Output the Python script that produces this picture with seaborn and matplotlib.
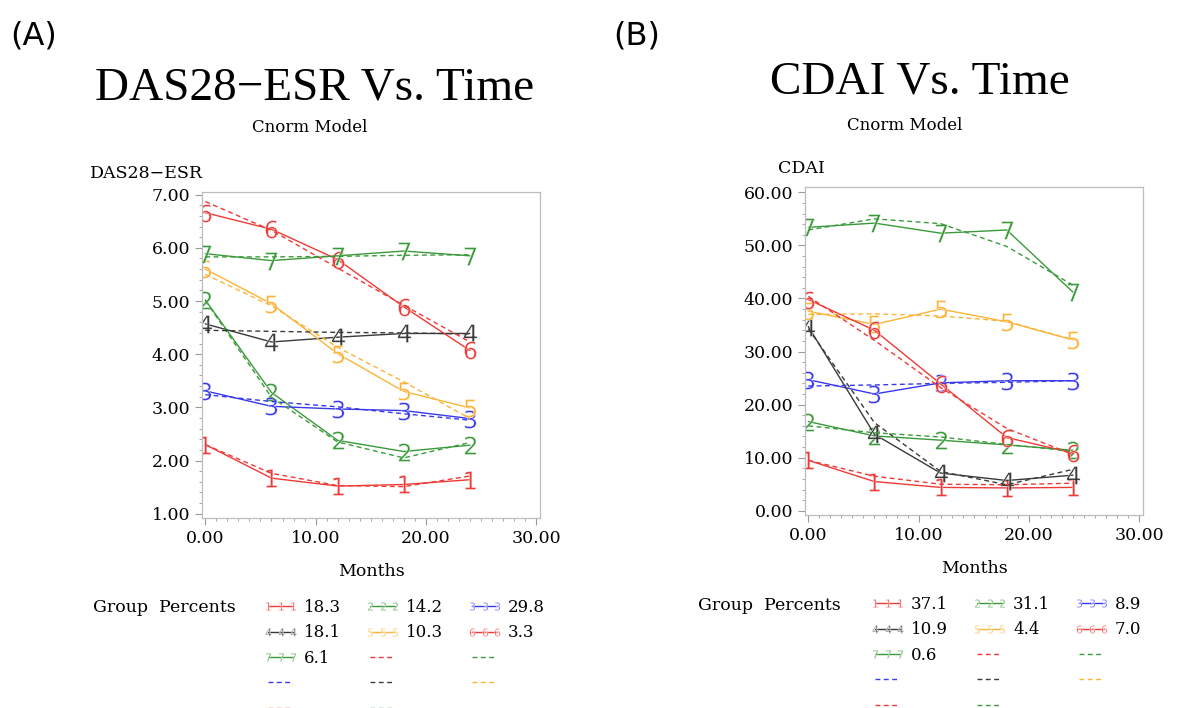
#!/usr/bin/env python3
# -*- coding: utf-8 -*-
"""Trayectorias por grupo (DAS28-ESR y CDAI) frente al tiempo, modelo Cnorm."""

import matplotlib
matplotlib.use('Agg')
import matplotlib.pyplot as plt
from matplotlib.ticker import MultipleLocator, FormatStrFormatter
import seaborn as sns

# Datos
months = [0, 6, 12, 18, 24]
group_ids = ['1', '2', '3', '4', '5', '6', '7']
group_colors = ['#ee3a36', '#3a9a3a', '#3838ee', '#3a3a3a', '#fbb437', '#ee3a36', '#3a9a3a']

das_observed = [
    [2.30, 1.67, 1.52, 1.55, 1.64],
    [5.02, 3.28, 2.38, 2.17, 2.29],
    [3.31, 3.02, 2.97, 2.94, 2.79],
    [4.57, 4.23, 4.32, 4.39, 4.39],
    [5.60, 4.95, 4.01, 3.30, 2.99],
    [6.66, 6.35, 5.78, 4.89, 4.07],
    [5.89, 5.76, 5.85, 5.94, 5.85],
]
das_predicted = [
    [2.30, 1.76, 1.53, 1.51, 1.71],
    [5.01, 3.19, 2.35, 2.05, 2.34],
    [3.24, 3.11, 3.01, 2.88, 2.76],
    [4.45, 4.43, 4.41, 4.40, 4.38],
    [5.50, 4.91, 4.13, 3.48, 2.79],
    [6.87, 6.33, 5.62, 4.92, 4.23],
    [5.83, 5.83, 5.84, 5.86, 5.87],
]
das_percents = ['18.3', '14.2', '29.8', '18.1', '10.3', '3.3', '6.1']

cdai_observed = [
    [9.5, 5.5, 4.4, 4.3, 4.4],
    [16.8, 14.1, 13.3, 12.4, 11.4],
    [24.7, 22.0, 24.1, 24.5, 24.5],
    [34.7, 14.4, 7.1, 5.7, 6.7],
    [37.6, 35.1, 38.0, 35.6, 32.2],
    [39.8, 34.0, 23.9, 13.8, 10.9],
    [53.4, 54.2, 52.3, 52.9, 41.2],
]
cdai_predicted = [
    [9.5, 6.5, 5.0, 4.9, 5.2],
    [16.0, 14.7, 13.9, 12.5, 11.2],
    [23.5, 23.7, 24.0, 24.2, 24.5],
    [34.3, 16.6, 7.4, 4.9, 7.8],
    [37.0, 37.1, 36.7, 35.7, 32.2],
    [40.4, 32.1, 23.2, 15.5, 10.6],
    [52.9, 55.0, 54.1, 49.8, 42.5],
]
cdai_percents = ['37.1', '31.1', '8.9', '10.9', '4.4', '7.0', '0.6']

sns.set_style('white')
plt.rcParams['font.family'] = ['DejaVu Serif']
plt.rcParams['mathtext.fontset'] = 'dejavusans'
plt.rcParams['text.color'] = 'black'
plt.rcParams['axes.labelcolor'] = 'black'
plt.rcParams['xtick.labelcolor'] = 'black'
plt.rcParams['ytick.labelcolor'] = 'black'

W, H = 1181, 708
fig = plt.figure(figsize=(W / 100, H / 100), dpi=100)


def px_axes(left, top, right, bottom):
    return fig.add_axes([left / W, 1 - bottom / H, (right - left) / W, (bottom - top) / H])


def dibujar_panel(ax, observed, predicted, percents, ylabel, ylim, ystep, yminor):
    for i, gid in enumerate(group_ids):
        sns.lineplot(x=months, y=observed[i], color=group_colors[i], marker=f'${gid}$',
                     markersize=13, markeredgewidth=0.3, linewidth=1.0,
                     label=percents[i], legend=False, ax=ax)
    for i, gid in enumerate(group_ids):
        sns.lineplot(x=months, y=predicted[i], color=group_colors[i],
                     linestyle=(0, (3.5, 2.5)), linewidth=1.0,
                     label=' ', legend=False, ax=ax)

    ax.set_xlim(-0.3, 30.35)
    ax.set_ylim(*ylim)
    ax.xaxis.set_major_locator(MultipleLocator(10))
    ax.xaxis.set_minor_locator(MultipleLocator(1))
    ax.yaxis.set_major_locator(MultipleLocator(ystep))
    ax.yaxis.set_minor_locator(MultipleLocator(yminor))
    ax.xaxis.set_major_formatter(FormatStrFormatter('%.2f'))
    ax.yaxis.set_major_formatter(FormatStrFormatter('%.2f'))
    ax.tick_params(which='both', direction='out', color='#9a9a9a', labelsize=12.5,
                   labelcolor='black')
    ax.tick_params(which='major', length=5, width=0.8, bottom=True, left=True)
    ax.tick_params(which='minor', length=2.5, width=0.6, bottom=True, left=True)
    for sp in ax.spines.values():
        sp.set_color('#bdbdbd')
        sp.set_linewidth(0.9)

    ax.set_xlabel('Months', fontsize=12.5, labelpad=12)
    ax.set_ylabel(ylabel, rotation=0, fontsize=12.5, ha='left', va='bottom')

    # leyenda: rellenar por filas (matplotlib rellena por columnas)
    handles, labels = ax.get_legend_handles_labels()
    order = [0, 3, 6, 9, 12, 1, 4, 7, 10, 13, 2, 5, 8, 11]
    return [handles[k] for k in order], [labels[k] for k in order]


def poner_leyenda(handles, labels, x, y):
    fig.legend(handles, labels, loc='upper left', bbox_to_anchor=(x / W, 1 - y / H), ncol=3,
               frameon=False, numpoints=3, markerscale=0.45, handlelength=2.1,
               handletextpad=0.35, columnspacing=1.45, labelspacing=0.5, fontsize=12,
               borderpad=0, borderaxespad=0)


# Panel A
ax_a = px_axes(202, 192, 540, 518)
h_a, l_a = dibujar_panel(ax_a, das_observed, das_predicted, das_percents,
                         'DAS28\u2212ESR', (0.92, 7.05), 1, 0.2)
ax_a.yaxis.set_label_coords(-0.33, 1.03)
fig.text(10 / W, 1 - 36 / H, '(A)', fontsize=23, family='DejaVu Sans', va='center')
fig.text(315 / W, 1 - 88 / H, 'DAS28\u2212ESR Vs. Time', fontsize=34,
         family=['Liberation Serif', 'DejaVu Serif'], ha='center', va='center')
fig.text(310 / W, 1 - 128 / H, 'Cnorm Model', fontsize=12, ha='center', va='center')
fig.text(93 / W, 1 - 608 / H, 'Group  Percents', fontsize=12.5, va='center')
poner_leyenda(h_a, l_a, 263, 599)

# Panel B
ax_b = px_axes(805, 187, 1143, 515)
h_b, l_b = dibujar_panel(ax_b, cdai_observed, cdai_predicted, cdai_percents,
                         'CDAI', (-0.8, 61.0), 10, 2)
ax_b.yaxis.set_label_coords(-0.08, 1.03)
fig.text(613 / W, 1 - 36 / H, '(B)', fontsize=23, family='DejaVu Sans', va='center')
fig.text(920 / W, 1 - 82 / H, 'CDAI Vs. Time', fontsize=34,
         family=['Liberation Serif', 'DejaVu Serif'], ha='center', va='center')
fig.text(905 / W, 1 - 125 / H, 'Cnorm Model', fontsize=12, ha='center', va='center')
fig.text(698 / W, 1 - 605 / H, 'Group  Percents', fontsize=12.5, va='center')
poner_leyenda(h_b, l_b, 870, 596)

fig.savefig('out.png', dpi=100)
